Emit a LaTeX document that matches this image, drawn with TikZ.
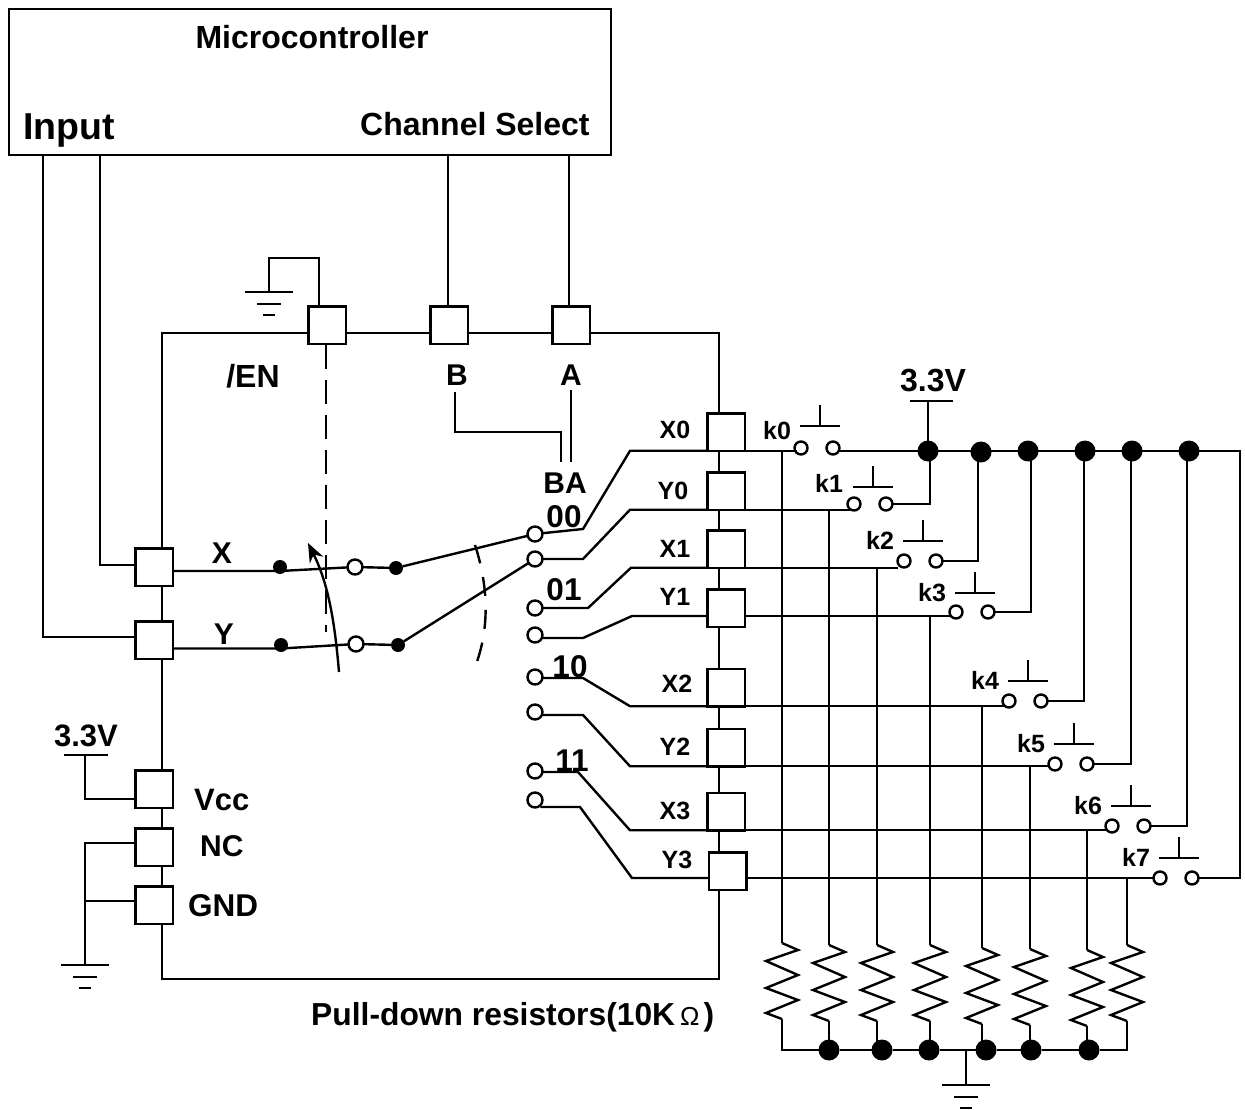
\documentclass[tikz,border=0pt]{standalone}
\usepackage{fontspec}
\setmainfont{Liberation Sans}
\usetikzlibrary{arrows.meta}
\tikzset{
  x=1pt,y=-1pt,
  every path/.style={line width=2.4pt,line join=miter},
  wire/.style={draw=black,line width=2.4pt},
  pad/.style={draw=black,fill=white,line width=2.5pt,minimum size=37.5pt,inner sep=0pt,outer sep=0pt,rectangle},
  opn/.style={draw=black,fill=white,circle,inner sep=0pt,outer sep=0pt,minimum size=13pt,line width=2.4pt},
  opnb/.style={opn,minimum size=15pt},
  dot/.style={fill=black,draw=none,circle,inner sep=0pt,outer sep=0pt,minimum size=21pt},
  sdot/.style={fill=black,draw=none,circle,inner sep=0pt,outer sep=0pt,minimum size=14pt},
  lab/.style={font=\bfseries\fontsize{#1}{#1}\selectfont,inner sep=0pt,anchor=base},
  pics/res/.style={code={
    \coordinate (-t) at (0,0); \coordinate (-b) at (0,76);
    \draw[wire] (0,0)--(16,7)--(-16,18)--(16,32)--(-16,45)--(16,57)--(-16,70)--(0,76);
  }},
  pics/btn/.style={code={
    \draw[wire] (-20,0)--(20,0);
    \draw[wire] (0,0)--(0,-21);
  }},
  pics/gnd/.style={code={
    \draw[wire] (-24,0)--(24,0);
    \draw[wire] (-12,12)--(12,12);
    \draw[wire] (-6,23)--(6,23);
  }},
}
\begin{document}
\begin{tikzpicture}
\useasboundingbox (0,0) rectangle (1245,1110);

% microcontroller
\node[draw=black,line width=2.4pt,fill=white,minimum width=602pt,minimum height=146pt,inner sep=0pt,outer sep=0pt] (mcu) at (310,82) {};
\node[lab=32] (tm) at (312,49) {Microcontroller};
\node[lab=37.5,anchor=base west] (tin) at (22,140) {Input};
\node[lab=32,anchor=base west] (tcs) at (359,136) {Channel Select};

% IC outline
\draw[wire] (162,333) -- (719,333) -- (719,979) -- (162,979) -- cycle;

% pads
\node[pad] (pEN) at (327,325) {};
\node[pad] (pB)  at (449,325) {};
\node[pad] (pA)  at (571,325) {};
\node[pad] (pX)  at (154,567) {};
\node[pad] (pY)  at (154,640) {};
\node[pad] (pV)  at (154,789) {};
\node[pad] (pNC) at (154,847) {};
\node[pad] (pG)  at (154,905) {};
\node[pad] (pX0) at (726,432) {};
\node[pad] (pY0) at (726,491) {};
\node[pad] (pX1) at (726,549) {};
\node[pad] (pY1) at (726,608) {};
\node[pad] (pX2) at (726,687.5) {};
\node[pad] (pY2) at (726,747.5) {};
\node[pad] (pX3) at (726,811.5) {};
\node[pad] (pY3) at (727.5,871) {};

% MCU to pads
\draw[wire] (mcu.south west -| 43,0) -- (43,637) -- (pY.west |- 0,637);
\draw[wire] (mcu.south west -| 100,0) -- (100,565) -- (pX.west |- 0,565);
\draw[wire] (mcu.south -| 448,0) -- (pB.north -| 448,0);
\draw[wire] (mcu.south -| 569,0) -- (pA.north -| 569,0);

% EN ground
\coordinate (gEN) at (269,292);
\draw[wire] (pEN.north -| 319,0) -- (319,258) -- (269,258) -- (gEN);
\pic at (gEN) {gnd};

% text in chip
\node[lab=32] (tEN) at (253,387) {/EN};
\node[lab=30] (tB) at (457,385) {B};
\node[lab=30] (tA) at (571,385) {A};
\node[lab=30] (tBA) at (565,493) {BA};
\coordinate (bB) at (455,392); \coordinate (bBe) at (561,462);
\coordinate (bA) at (571,390); \coordinate (bAe) at (571,462);
\draw[wire] (bB) -- (455,432) -- (561,432) -- (bBe);
\draw[wire] (bA) -- (bAe);

% switch
\node[sdot] (dX1) at (280,567) {};
\node[opnb] (cX)  at (355,567) {};
\node[sdot] (dX2) at (396,568) {};
\node[sdot] (dY1) at (281,645) {};
\node[opnb] (cY)  at (356,644) {};
\node[sdot] (dY2) at (398,645) {};

\node[opnb] (o00) at (535,534) {};
\node[opnb] (o0y) at (535,559) {};
\node[opnb] (o01) at (535,608) {};
\node[opnb] (o1y) at (535,635) {};
\node[opnb] (o10) at (535,677) {};
\node[opnb] (o2y) at (535,712) {};
\node[opnb] (o11) at (535,771) {};
\node[opnb] (o3y) at (535,800) {};

\draw[wire] (pX.east |- 0,571) -- (dX1 |- 0,571) -- (cX) -- (dX2) -- (o00);
\draw[wire] (pY.east |- 0,648.5) -- (dY1 |- 0,648.5) -- (cY) -- (dY2) -- (o0y);

\coordinate (dasha) at (326,345); \coordinate (dashb) at (326,632);
\draw[wire,dash pattern=on 24pt off 11pt] (dasha) -- (dashb);
\coordinate (arca) at (475,545); \coordinate (arcb) at (473,672);
\draw[wire,dash pattern=on 19pt off 14pt] (arca) .. controls (488,585) and (491,630) .. (arcb);
\coordinate (arra) at (339,672); \coordinate (arrb) at (308,543);
\draw[wire,-{Stealth[length=19pt,width=15pt]}] (arra) .. controls (335,625) and (329,585) .. (arrb);

% wires from contacts to pads
\draw[wire] (o00) -- (583,529) -- (pX0.south west -| 630,0) -- (pX0.south west);
\draw[wire] (o0y) -- (583,559) -- (pY0.south west -| 630,0) -- (pY0.south west);
\draw[wire] (o01.east |- 0,608) -- (588,608) -- (pX1.south west -| 631,0) -- (pX1.south west);
\draw[wire] (o1y.east |- 0,638) -- (583,638) -- (632,616) -- (pY1.west |- 0,616);
\draw[wire] (o10.east |- 0,678) -- (583,678) -- (pX2.south west -| 630,0) -- (pX2.south west);
\draw[wire] (o2y.east |- 0,715) -- (583,715) -- (pY2.south west -| 630,0) -- (pY2.south west);
\draw[wire] (o11.east |- 0,772) -- (578,772) -- (pX3.south west -| 630,0) -- (pX3.south west);
\draw[wire] (o3y.south east |- 0,807) -- (580,807) -- (632,878) -- (pY3.west |- 0,878);

% labels
\node[lab=30] (tX) at (222,563) {X};
\node[lab=30] (tY) at (224,644) {Y};
\node[lab=31.5] (t00) at (564,527) {00};
\node[lab=31.5] (t01) at (564,600) {01};
\node[lab=31.5] (t10) at (570,677) {10};
\node[lab=31.5] (t11) at (572,771) {11};
\foreach \n/\tx/\ty in {X0/675/438,Y0/673/499,X1/675/557,Y1/675/605,X2/677/692,Y2/675/755,X3/675/819,Y3/677/868}{
  \node[lab=25] (t\n) at (\tx,\ty) {\n};
}
\node[lab=31,anchor=base west] (tVcc) at (193,810) {Vcc};
\node[lab=30,anchor=base west] (tNC) at (199,856) {NC};
\node[lab=31.5,anchor=base west] (tGND) at (187,916) {GND};

% Vcc, NC, GND
\coordinate (vs) at (85,755);
\node[lab=31] (tV1) at (86,746) {3.3V};
\draw[wire] (64,755) -- (108,755);
\draw[wire] (vs) -- (85,799) -- (pV.west |- 0,799);
\coordinate (gL) at (85,965);
\draw[wire] (pNC.west |- 0,843) -- (85,843) -- (gL);
\draw[wire] (pG.west |- 0,901) -- (85,901);
\pic at (gL) {gnd};

% switches
\node[opn] (k0a) at (801,448) {}; \node[opn] (k0b) at (833,448) {};
\node[opn] (k1a) at (854,504) {}; \node[opn] (k1b) at (886,504) {};
\node[opn] (k2a) at (904,561) {}; \node[opn] (k2b) at (936,561) {};
\node[opn] (k3a) at (956,612) {}; \node[opn] (k3b) at (988,612) {};
\node[opn] (k4a) at (1009,701) {}; \node[opn] (k4b) at (1041,701) {};
\node[opn] (k5a) at (1055,764) {}; \node[opn] (k5b) at (1087,764) {};
\node[opn] (k6a) at (1112,826) {}; \node[opn] (k6b) at (1144,826) {};
\node[opn] (k7a) at (1160,878) {}; \node[opn] (k7b) at (1192,878) {};
\foreach \bx/\by/\lx/\ly/\n in {820/426/777/439/k0,873/487/829/492/k1,923/541/880/549/k2,975/593/932/601/k3,1028/681/985/689/k4,1074/744/1031/752/k5,1131/806/1088/814/k6,1179/858/1136/866/k7}{
  \pic at (\bx,\by) {btn};
  \node[lab=25] (t\n) at (\lx,\ly) {\n};
}

% row wires
\draw[wire] (pX0.south east) -- ([xshift=2pt]k0a.west |- pX0.south east);
\draw[wire] (pY0.south east) -- ([xshift=2pt]k1a.west |- pY0.south east);
\draw[wire] (pX1.south east) -- ([xshift=0pt]k2a.west |- pX1.south east);
\draw[wire] (pY1.east |- 0,616) -- ([xshift=2pt]k3a.west |- 0,616);
\draw[wire] (pX2.south east) -- ([xshift=2pt]k4a.west |- pX2.south east);
\draw[wire] (pY2.south east) -- ([xshift=0pt]k5a.west |- pY2.south east);
\draw[wire] (pX3.south east) -- ([xshift=2pt]k6a.west |- pX3.south east);
\draw[wire] (pY3.east |- 0,878) -- (k7a);

% 3.3V bus
\node[dot] (b0) at (928,451) {};
\node[dot] (b1) at (981,452) {};
\node[dot] (b2) at (1028,451) {};
\node[dot] (b3) at (1085,451) {};
\node[dot] (b4) at (1132,451) {};
\node[dot] (b5) at (1189,451) {};
\draw[wire] (k0b.east |- 0,451) -- (1240,451) -- (1240,878) -- (k7b);
\node[lab=32] (tV2) at (933,391) {3.3V};
\draw[wire] (910,401) -- (953,401);
\draw[wire] (928,401) -- (b0);
\draw[wire] (k1b) -- (930,504) -- (930,451);
\draw[wire] (k2b) -- (978,561) -- (978,451);
\draw[wire] (k3b) -- (1031,612) -- (1031,451);
\draw[wire] (k4b) -- (1084,701) -- (1084,451);
\draw[wire] (k5b) -- (1131,764) -- (1131,451);
\draw[wire] (k6b) -- (1187,826) -- (1187,451);

% resistors
\pic (r0) at (782,943) {res};
\pic (r1) at (829,945) {res};
\pic (r2) at (877,945) {res};
\pic (r3) at (930,945) {res};
\pic (r4) at (982,948) {res};
\pic (r5) at (1030,949) {res};
\pic (r6) at (1087,950) {res};
\pic (r7) at (1127,945) {res};

\draw[wire] (r0-t) -- (r0-t |- pX0.south);
\draw[wire] (r1-t) -- (r1-t |- pY0.south);
\draw[wire] (r2-t) -- (r2-t |- pX1.south);
\draw[wire] (r3-t) -- (r3-t |- 0,616);
\draw[wire] (r4-t) -- (r4-t |- pX2.south);
\draw[wire] (r5-t) -- (r5-t |- pY2.south);
\draw[wire] (r6-t) -- (r6-t |- pX3.south);
\draw[wire] (r7-t) -- (r7-t |- 0,878);

% ground bus
\node[dot] (g1) at (829,1050) {};
\node[dot] (g2) at (882,1050) {};
\node[dot] (g3) at (929,1050) {};
\node[dot] (g4) at (986,1050) {};
\node[dot] (g5) at (1031,1050) {};
\node[dot] (g6) at (1089,1050) {};
\coordinate (gB) at (966,1085);
\draw[wire] (r0-b) -- (782,1050) -- (g1) -- (g2) -- (g3) -- (g4) -- (g5) -- (g6) -- (1127,1050) -- (r7-b);
\draw[wire] (r1-b) -- (r1-b |- g1);
\draw[wire] (r2-b) -- (r2-b |- g2);
\draw[wire] (r3-b) -- (r3-b |- g3);
\draw[wire] (r4-b) -- (r4-b |- g4);
\draw[wire] (r5-b) -- (r5-b |- g5);
\draw[wire] (r6-b) -- (r6-b |- g6);
\draw[wire] (966,1050) -- (gB);
\pic at (gB) {gnd};

\node[lab=31.8,anchor=base west] (tPD) at (310,1025) {Pull-down resistors(10K\hspace{5pt}{\mdseries\fontsize{26}{26}\selectfont Ω}\hspace{4pt})};
\end{tikzpicture}
\end{document}
